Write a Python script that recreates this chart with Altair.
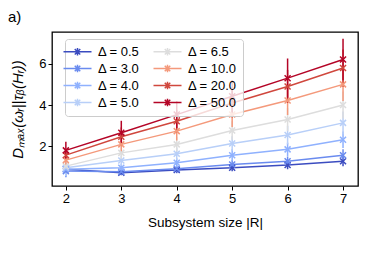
import altair as alt
import pandas as pd

sizes = [2, 3, 4, 5, 6, 7]
deltas = ["Δ = 0.5", "Δ = 3.0", "Δ = 4.0", "Δ = 5.0", "Δ = 6.5", "Δ = 10.0", "Δ = 20.0", "Δ = 50.0"]
colors = ["#3b4cc0", "#6a8bef", "#8fb1fe", "#b8cff8", "#dddddd", "#f4997b", "#d0473d", "#b40426"]

d_05 = [0.90, 0.73, 0.86, 0.97, 1.10, 1.29]
d_3 = [0.81, 0.78, 0.92, 1.13, 1.29, 1.58]
d_4 = [0.90, 0.97, 1.21, 1.58, 1.86, 2.32]
d_5 = [0.97, 1.32, 1.65, 2.14, 2.55, 3.14]
d_65 = [1.05, 1.69, 2.10, 2.77, 3.30, 4.00]
d_10 = [1.34, 2.10, 2.74, 3.54, 4.22, 5.00]
d_20 = [1.58, 2.47, 3.22, 4.10, 4.90, 5.79]
d_50 = [1.81, 2.66, 3.54, 4.43, 5.30, 6.20]

e_05 = [0.20, 0.12, 0.15, 0.17, 0.20, 0.25]
e_3 = [0.30, 0.15, 0.17, 0.20, 0.23, 0.28]
e_4 = [0.35, 0.20, 0.22, 0.28, 0.32, 0.40]
e_5 = [0.40, 0.25, 0.30, 0.35, 0.45, 0.55]
e_65 = [0.25, 0.30, 0.35, 0.45, 0.55, 0.65]
e_10 = [0.25, 0.35, 0.45, 0.60, 0.70, 0.80]
e_20 = [0.30, 0.45, 0.55, 0.70, 0.80, 0.90]
e_50 = [0.42, 0.58, 0.65, 0.78, 0.95, 1.00]

series = [d_05, d_3, d_4, d_5, d_65, d_10, d_20, d_50]
errors = [e_05, e_3, e_4, e_5, e_65, e_10, e_20, e_50]

rows = []
for k, (name, vals, errs) in enumerate(zip(deltas, series, errors)):
    for s, v, e in zip(sizes, vals, errs):
        rows.append({"size": s, "delta": name, "value": v, "err": e, "k": k})
df = pd.DataFrame(rows)

FONT = "Liberation Sans"
sym_path = "M-2.8,0H2.8M0,-0.75V0.75M-0.55,-0.55L0.55,0.55M-0.55,0.55L0.55,-0.55"

legend = alt.Legend(
    title=None, orient="none", legendX=13, legendY=7, columns=2,
    symbolType=sym_path, symbolSize=100, symbolStrokeWidth=1.5,
    labelFont=FONT, labelFontSize=13, labelColor="black", labelOffset=14,
    rowPadding=2, columnPadding=10, padding=6,
    fillColor="rgba(255,255,255,0.8)", strokeColor="#cccccc", cornerRadius=3,
)
color = alt.Color("delta:N", scale=alt.Scale(domain=deltas, range=colors), legend=legend)

x = alt.X("size:Q", scale=alt.Scale(domain=[1.75, 7.27], nice=False, zero=False),
          axis=alt.Axis(values=sizes, title="Subsystem size |R|", titlePadding=10))
y = alt.Y("value:Q", scale=alt.Scale(domain=[0.09, 7.53], nice=False, zero=False),
          axis=alt.Axis(values=[2, 4, 6], title="Dₘₐₓ(ωᵣ||τᵦ(Hᵣ))", titlePadding=13,
                        titleFontStyle="italic", titleFontSize=15))

base = alt.Chart(df).transform_calculate(
    lo="datum.value - datum.err", hi="datum.value + datum.err"
)
rules = base.mark_rule(strokeWidth=1.5).encode(
    x=x, y=alt.Y("lo:Q"), y2="hi:Q", color=color)
lines = base.mark_line(strokeWidth=1.5).encode(x=x, y=y, color=color)
points = base.mark_point(shape="M-1,-1L1,1M-1,1L1,-1", filled=False, strokeWidth=1.5,
                         size=36, opacity=1).encode(x=x, y=y, color=color)

chart = alt.layer(rules, lines, points).properties(
    width=306, height=154,
    autosize=alt.AutoSizeParams(type="none"),
    padding={"left": 44, "top": 24, "right": 8, "bottom": 55},
    title=alt.TitleParams("a)", anchor="start", frame="group", dx=-44, offset=7,
                          fontSize=15, font=FONT, fontWeight="normal", color="black"),
).configure_view(
    stroke="black", strokeWidth=1.3
).configure_axis(
    domain=False, grid=False, ticks=True, tickColor="black", tickSize=4, tickWidth=1,
    labelFont=FONT, labelFontSize=13, labelColor="black", labelPadding=2,
    titleFont=FONT, titleFontSize=13.5, titleFontWeight="normal", titleColor="black",
)

chart.save("out.html", embed_options={"renderer": "svg", "actions": False})
